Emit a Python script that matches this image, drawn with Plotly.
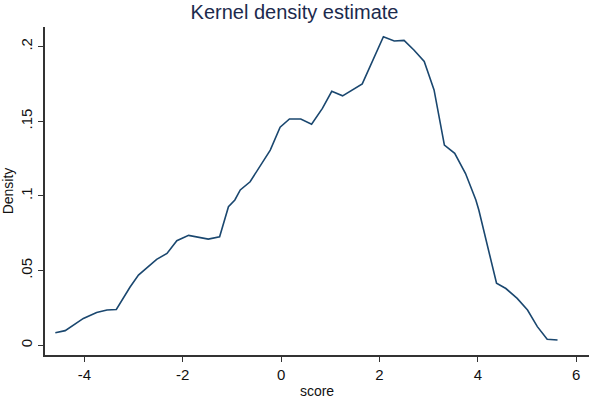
import plotly.graph_objects as go

score = [-4.59, -4.39, -4.02, -3.75, -3.54, -3.35, -3.07, -2.90, -2.53, -2.32,
         -2.12, -1.88, -1.48, -1.25, -1.07, -0.94, -0.83, -0.63, -0.22, -0.02,
         0.17, 0.40, 0.62, 0.84, 1.03, 1.25, 1.65, 1.86, 2.08, 2.30,
         2.50, 2.70, 2.91, 3.11, 3.32, 3.53, 3.75, 3.96, 4.02, 4.38,
         4.57, 4.80, 5.01, 5.21, 5.41, 5.62]
density = [0.0084, 0.0098, 0.0180, 0.0220, 0.0236, 0.0240, 0.0390, 0.0470, 0.0575, 0.0615,
           0.0700, 0.0736, 0.0711, 0.0727, 0.0928, 0.0973, 0.1040, 0.1095, 0.1307, 0.1460,
           0.1515, 0.1515, 0.1480, 0.1586, 0.1700, 0.1670, 0.1750, 0.1910, 0.2066, 0.2037,
           0.2041, 0.1977, 0.1900, 0.1710, 0.1340, 0.1285, 0.1150, 0.0973, 0.0906, 0.0415,
           0.0380, 0.0314, 0.0236, 0.0125, 0.0040, 0.0035]

x_ticks = [-4, -2, 0, 2, 4, 6]
x_ticktext = ["-4", "-2", "0", "2", "4", "6"]
y_ticks = [0, 0.05, 0.1, 0.15, 0.2]
y_ticktext = ["0", ".05", ".1", ".15", ".2"]

fig = go.Figure()
fig.add_trace(go.Scatter(x=score, y=density, mode="lines",
                         line=dict(color="#1a476f", width=1.6), hoverinfo="skip"))

axis_common = dict(showgrid=False, zeroline=False, showline=True, linecolor="#333",
                   linewidth=1.5, ticks="outside", ticklen=5, tickcolor="#333",
                   tickfont=dict(family="Liberation Sans", size=15, color="#111"))

fig.update_layout(
    width=589, height=400,
    margin=dict(l=45, r=0, t=27, b=45),
    paper_bgcolor="white", plot_bgcolor="white",
    showlegend=False,
    title=dict(text="Kernel density estimate", x=0.5, xanchor="center", y=0.97, yanchor="middle",
               font=dict(family="Liberation Sans", size=20, color="#1c2a4d")),
    xaxis=dict(range=[-4.80, 6.26], tickvals=x_ticks, ticktext=x_ticktext,
               title=dict(text="score", standoff=4,
                          font=dict(family="Liberation Sans", size=14, color="#111")),
               **axis_common),
    yaxis=dict(range=[-0.0065, 0.2131], tickvals=y_ticks, ticktext=y_ticktext, tickangle=-90,
               title=dict(text="Density", standoff=2,
                          font=dict(family="Liberation Sans", size=14, color="#111")),
               **axis_common),
)

fig.write_html("out.html")
